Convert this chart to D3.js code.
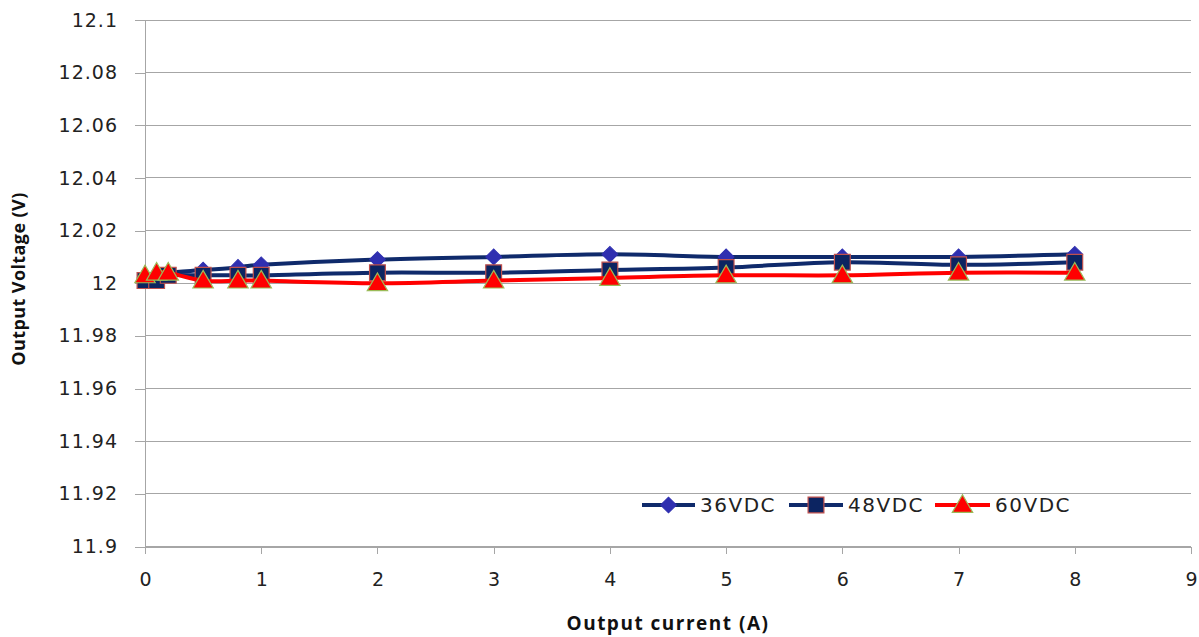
<!DOCTYPE html>
<html><head><meta charset="utf-8">
<script src="https://cdn.jsdelivr.net/npm/d3@7"></script>
<style>
body{margin:0;background:#fff;}
svg{display:block;}
</style></head>
<body>
<svg id="chart" width="1199" height="637"></svg>
<script>
const currents = [0, 0.1, 0.2, 0.5, 0.8, 1, 2, 3, 4, 5, 6, 7, 8];
const v36 = [12.002, 12.003, 12.004, 12.005, 12.006, 12.007, 12.009, 12.010, 12.011, 12.010, 12.010, 12.010, 12.011];
const v48 = [12.001, 12.001, 12.003, 12.003, 12.003, 12.003, 12.004, 12.004, 12.005, 12.006, 12.008, 12.007, 12.008];
const v60 = [12.003, 12.004, 12.004, 12.001, 12.001, 12.001, 12.000, 12.001, 12.002, 12.003, 12.003, 12.004, 12.004];
const seriesNames = ["36VDC", "48VDC", "60VDC"];
const xTicks = [0,1,2,3,4,5,6,7,8,9];
const yTicks = [11.9,11.92,11.94,11.96,11.98,12,12.02,12.04,12.06,12.08,12.1];
const xTitle = "Output current (A)";
const yTitle = "Output Voltage (V)";

const svg = d3.select("#chart");
const L = 145, R = 1191, T = 20, B = 546.5;
const x = d3.scaleLinear().domain([0, 9]).range([L, R]);
const y = d3.scaleLinear().domain([11.9, 12.1]).range([B, T]);
const gridCol = "#a6a6a6";
const tickFont = "DejaVu Sans, Verdana, sans-serif";

// gridlines
svg.append("g").selectAll("line").data(yTicks).join("line")
  .attr("x1", L).attr("x2", R).attr("y1", d => y(d)).attr("y2", d => y(d))
  .attr("stroke", gridCol).attr("stroke-width", 1).attr("shape-rendering","crispEdges");

// y axis
const yAxis = svg.append("g").attr("transform", `translate(${L},0)`)
  .call(d3.axisLeft(y).tickValues(yTicks).tickSize(10).tickPadding(17).tickFormat(d => String(+d.toFixed(2))));
yAxis.select(".domain").attr("stroke", gridCol).attr("shape-rendering","crispEdges");
yAxis.selectAll(".tick line").attr("stroke", gridCol).attr("shape-rendering","crispEdges");
yAxis.selectAll("text").attr("font-family", tickFont).attr("font-size", 19).attr("letter-spacing", "1px").attr("fill", "#222");

// x axis
const xAxis = svg.append("g").attr("transform", `translate(0,${B})`)
  .call(d3.axisBottom(x).tickValues(xTicks).tickSize(7).tickPadding(19).tickFormat(d3.format("d")));
xAxis.select(".domain").attr("stroke", gridCol).attr("shape-rendering","crispEdges");
xAxis.selectAll(".tick line").attr("stroke", gridCol).attr("shape-rendering","crispEdges");
xAxis.selectAll("text").attr("font-family", tickFont).attr("font-size", 19).attr("fill", "#222");

// titles
svg.append("text").attr("x", 668).attr("y", 630).attr("text-anchor", "middle")
  .attr("font-family", "Open Sans, sans-serif").attr("font-weight", "bold").attr("font-size", 19)
  .attr("letter-spacing", "1.5px").attr("fill", "#111").text(xTitle);
svg.append("text").attr("transform", "translate(25,279) rotate(-90)").attr("text-anchor", "middle")
  .attr("font-family", "Open Sans, sans-serif").attr("font-weight", "bold").attr("font-size", 18)
  .attr("letter-spacing", "0.4px").attr("fill", "#111").text(yTitle);

const styles = [
  {line: "#0f2a6b", shape: d3.symbolSquare, size: 125, fill: "#2f2fb0", stroke: "#2f2fb0", sw: 1, rot: 45, dy: 0},
  {line: "#0f2a6b", shape: d3.symbolSquare, size: 250, fill: "#0c2461", stroke: "#c0504d", sw: 1.2, rot: 0, dy: 0},
  {line: "#ff0000", shape: d3.symbolTriangle, size: 180, fill: "#ff0000", stroke: "#9bbb59", sw: 1.2, rot: 0, dy: 1.5}
];
const data = [v36, v48, v60];
const lineGen = d3.line().x((d, i) => x(currents[i])).y(d => y(d)).curve(d3.curveCardinal.tension(0));

data.forEach((vals, si) => {
  const st = styles[si];
  const g = svg.append("g");
  g.append("path").attr("d", lineGen(vals)).attr("fill", "none").attr("stroke", st.line)
    .attr("stroke-width", 4).attr("stroke-linejoin", "round");
  g.selectAll("path.m").data(vals).join("path").attr("class", "m")
    .attr("d", d3.symbol().type(st.shape).size(st.size))
    .attr("transform", (d, i) => `translate(${x(currents[i])},${y(d) + st.dy}) rotate(${st.rot})`)
    .attr("fill", st.fill).attr("stroke", st.stroke).attr("stroke-width", st.sw);
});

// legend
const legendItems = [
  {x1: 642, x2: 695, tx: 700},
  {x1: 789, x2: 843, tx: 848},
  {x1: 935, x2: 990, tx: 995}
];
const ly = 505;
seriesNames.forEach((name, i) => {
  const st = styles[i], it = legendItems[i];
  const g = svg.append("g");
  g.append("line").attr("x1", it.x1).attr("x2", it.x2).attr("y1", ly).attr("y2", ly)
    .attr("stroke", st.line).attr("stroke-width", 4);
  g.append("path").attr("d", d3.symbol().type(st.shape).size(st.size))
    .attr("transform", `translate(${(it.x1+it.x2)/2},${ly + st.dy}) rotate(${st.rot})`)
    .attr("fill", st.fill).attr("stroke", st.stroke).attr("stroke-width", st.sw);
  g.append("text").attr("x", it.tx).attr("y", ly).attr("dy", "0.36em")
    .attr("font-family", tickFont).attr("font-size", 20).attr("letter-spacing", "1.5px")
    .attr("fill", "#222").text(name);
});
</script>
</body></html>
